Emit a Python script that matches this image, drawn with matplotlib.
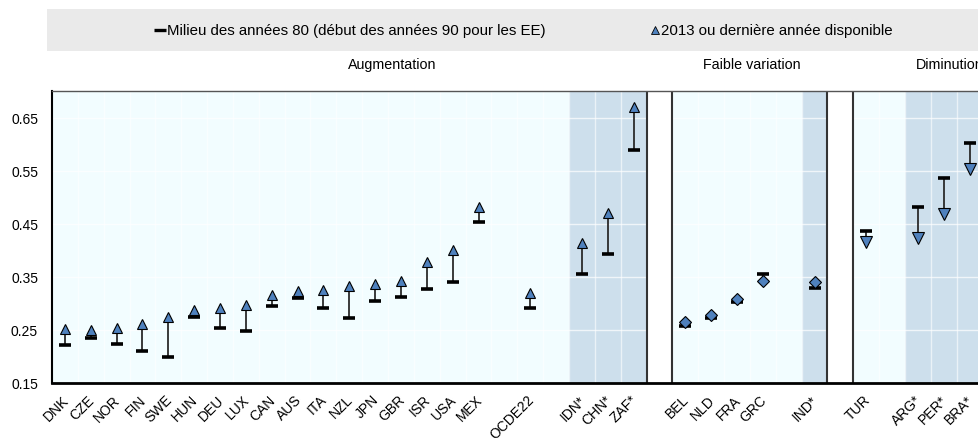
import matplotlib.pyplot as plt
from matplotlib.patches import Rectangle
from matplotlib.transforms import ScaledTranslation

plt.rcParams['font.family'] = ['Liberation Sans', 'DejaVu Sans']

# Augmentation
aug_pays = ['DNK', 'CZE', 'NOR', 'FIN', 'SWE', 'HUN', 'DEU', 'LUX', 'CAN', 'AUS', 'ITA', 'NZL',
            'JPN', 'GBR', 'ISR', 'USA', 'MEX', '', 'OCDE22', '', 'IDN*', 'CHN*', 'ZAF*']
aug_1985 = [0.221, 0.234, 0.223, 0.210, 0.198, 0.273, 0.252, 0.247, 0.294, 0.310, 0.291, 0.272,
            0.303, 0.311, 0.327, 0.340, 0.453, None, 0.290, None, 0.355, 0.392, 0.588]
aug_2013 = [0.251, 0.250, 0.253, 0.261, 0.273, 0.287, 0.291, 0.296, 0.315, 0.323, 0.325, 0.333,
            0.336, 0.342, 0.377, 0.400, 0.481, None, 0.318, None, 0.414, 0.469, 0.669]

# Faible variation
fai_pays = ['BEL', 'NLD', 'FRA', 'GRC', '', 'IND*']
fai_1985 = [0.257, 0.272, 0.302, 0.354, None, 0.329]
fai_2013 = [0.265, 0.278, 0.307, 0.341, None, 0.339]

# Diminution
dim_pays = ['TUR', '', 'ARG*', 'PER*', 'BRA*']
dim_1985 = [0.435, None, 0.482, 0.536, 0.601]
dim_2013 = [0.415, None, 0.423, 0.467, 0.552]

groupes = [
    (aug_pays, aug_1985, aug_2013, '^', 7.8),
    (fai_pays, fai_1985, fai_2013, 'D', 6.2),
    (dim_pays, dim_1985, dim_2013, 'v', 8.0),
]

fond = '#F2FDFF'
bande = '#CDDFEC'
bleu = '#4F81BD'

fig = plt.figure(figsize=(9.79, 4.39), dpi=100)
fig.patch.set_facecolor('white')

# zone d'en-tete en pixels
hdr = fig.add_axes([0, 0, 1, 1])
hdr.set_xlim(0, 979)
hdr.set_ylim(439, 0)
hdr.axis('off')
hdr.add_patch(Rectangle((47, 10), 940, 42, facecolor='#EAEAEA', edgecolor='none'))
hdr.plot([160.5], [31], marker='_', ms=8, mew=2.4, color='black')
hdr.text(167, 31, 'Milieu des années 80 (début des années 90 pour les EE)', fontsize=10.8,
         va='center', ha='left')
hdr.plot([655.5], [31], marker='^', ms=5.5, mfc=bleu, mec='black', mew=0.6, ls='none')
hdr.text(661, 31, '2013 ou dernière année disponible', fontsize=10.8, va='center', ha='left')
hdr.text(392, 65, 'Augmentation', fontsize=10.3, va='center', ha='center')
hdr.text(752, 65, 'Faible variation', fontsize=10.3, va='center', ha='center')
hdr.text(916, 65, 'Diminution', fontsize=10.3, va='center', ha='left')

n_total = sum(len(g[0]) for g in groupes) + len(groupes) - 1
ax = fig.add_axes([52 / 979, 1 - 383.5 / 439, n_total * 25.85 / 979, 291.5 / 439])
ax.set_facecolor(fond)
ax.set_xlim(-0.5, n_total - 0.5)
ax.set_ylim(0.15, 0.70)

labels = []
pos = 0
for gi, (pays, v85, v13, mk, ms) in enumerate(groupes):
    for p, a, b in zip(pays, v85, v13):
        labels.append(p)
        if p.endswith('*'):
            ax.axvspan(pos - 0.5, pos + 0.5, color=bande, lw=0, zorder=0)
        if a is not None:
            ax.vlines(pos, a, b, color='#2b2b2b', lw=1.3, zorder=2)
            ax.plot(pos, a, marker='_', ms=8.6, mew=2.6, color='black', zorder=3)
            ax.plot(pos, b, marker=mk, ms=ms, mfc=bleu, mec='black', mew=0.8, ls='none', zorder=4)
        pos += 1
    if gi < len(groupes) - 1:
        # colonne blanche de separation
        labels.append('')
        ax.axvspan(pos - 0.5, pos + 0.5, color='white', lw=0, zorder=1)
        ax.axvline(pos - 0.5, color='#333333', lw=1.5, zorder=1.5)
        ax.axvline(pos + 0.5, color='#333333', lw=1.5, zorder=1.5)
        pos += 1

# grille claire
for x in range(n_total - 1):
    ax.axvline(x + 0.5, color='white', lw=1, alpha=0.6, zorder=0.5)
yt = [0.15, 0.25, 0.35, 0.45, 0.55, 0.65]
for y in yt[1:]:
    ax.axhline(y, color='white', lw=1, alpha=0.7, zorder=0.5)

ax.set_yticks(yt)
ax.set_yticklabels(['%.2f' % y for y in yt], fontsize=10)
ax.set_xticks(range(n_total))
ax.set_xticklabels(labels, fontsize=10, rotation=45, ha='right', va='center',
                   rotation_mode='anchor')
ax.tick_params(axis='both', length=0)
ax.tick_params(axis='y', pad=10)
ax.tick_params(axis='x', pad=10.5)
for lab in ax.get_xticklabels():
    lab.set_transform(lab.get_transform() + ScaledTranslation(1.5 / 100, 0, fig.dpi_scale_trans))

ax.spines['left'].set_color('black')
ax.spines['left'].set_linewidth(1.5)
ax.spines['bottom'].set_color('black')
ax.spines['bottom'].set_linewidth(2)
ax.spines['top'].set_color('#555555')
ax.spines['top'].set_linewidth(1)
ax.spines['right'].set_visible(False)

fig.savefig('out.png', dpi=100)
